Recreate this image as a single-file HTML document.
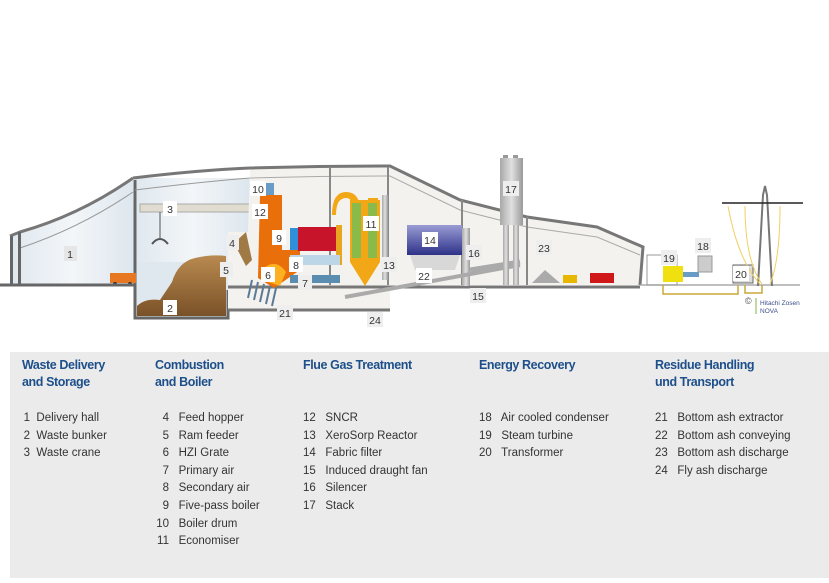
<!DOCTYPE html>
<html><head><meta charset="utf-8"><style>
html,body{margin:0;padding:0;background:#fff;}
body{width:829px;height:583px;position:relative;overflow:hidden;font-family:"Liberation Sans",sans-serif;}
svg{position:absolute;left:0;top:0;}
.leg{position:absolute;left:10px;top:352px;width:819px;height:226px;background:#ebebeb;}
.h{position:absolute;color:#1d4f8a;font-size:12.5px;line-height:17px;font-weight:bold;letter-spacing:-0.4px;}
.it{position:absolute;color:#333;font-size:11.5px;line-height:17.6px;white-space:nowrap;}
.it span{display:inline-block;text-align:right;}
.lb{font-family:"Liberation Sans",sans-serif;font-size:10.5px;fill:#333;text-anchor:middle;}
</style></head><body>
<svg width="829" height="583" viewBox="0 0 829 583">
<defs>
<linearGradient id="hall" x1="0" x2="1"><stop offset="0" stop-color="#dfe8ef"/><stop offset="0.5" stop-color="#f3f6f8"/><stop offset="1" stop-color="#dde6ee"/></linearGradient>
<linearGradient id="brown" x1="0" y1="0" x2="0" y2="1"><stop offset="0" stop-color="#b98a50"/><stop offset="1" stop-color="#7a5228"/></linearGradient>
<linearGradient id="grey" x1="0" x2="1"><stop offset="0" stop-color="#a8a8a8"/><stop offset="0.5" stop-color="#e0e0e0"/><stop offset="1" stop-color="#9a9a9a"/></linearGradient>
<linearGradient id="blue" x1="0" y1="0" x2="0" y2="1"><stop offset="0" stop-color="#9a9cd4"/><stop offset="1" stop-color="#2d3288"/></linearGradient>
</defs>
<path d="M10,236 L20,232 Q80,215 133,178 L135,285 L10,285 Z" fill="url(#hall)"/>
<path d="M10,236 L20,232 Q80,215 133,178" fill="none" stroke="#777" stroke-width="3"/>
<path d="M20,248 Q80,228 133,192" fill="none" stroke="#999" stroke-width="1"/>
<rect x="10" y="236" width="3" height="50" fill="#666"/><rect x="18" y="232" width="3" height="54" fill="#666"/>
<rect x="135" y="178" width="115" height="107" fill="url(#hall)"/>
<path d="M135,285 L135,318 L228,318 L228,262 L135,262Z" fill="#dfe8ef"/>
<path d="M137,316 L137,306 Q145,298 160,300 L172,282 Q178,262 195,258 Q212,254 226,256 L226,316Z" fill="url(#brown)"/>
<path d="M135,180 L135,318 L228,318 L228,290" fill="none" stroke="#666" stroke-width="3"/>
<path d="M133,178 Q200,170 250,168" fill="none" stroke="#777" stroke-width="3"/>
<path d="M135,190 Q200,182 250,178" fill="none" stroke="#999" stroke-width="1"/>
<rect x="140" y="204" width="110" height="8" fill="#e0dccf" stroke="#aaa" stroke-width="1"/>
<line x1="160" y1="212" x2="160" y2="238" stroke="#555"/><path d="M152,244 Q160,234 168,244" fill="none" stroke="#555" stroke-width="2"/>
<path d="M230,244 Q237,236 244,244" fill="none" stroke="#555" stroke-width="2"/>
<rect x="110" y="273" width="26" height="10" fill="#e87722"/><circle cx="115" cy="284" r="2" fill="#333"/><circle cx="130" cy="284" r="2" fill="#333"/>
<path d="M228,285 L228,232 L248,232 L250,168 Q320,166 390,166 L460,200 L527,217 L597,227 L643,247 L640,285Z" fill="#f4f2ee"/>
<path d="M250,168 Q320,166 390,166 L460,200 L527,217 L597,227 L643,247 L640,285" fill="none" stroke="#777" stroke-width="3"/>
<path d="M250,178 Q320,176 390,176 L460,210 L527,227 L597,237 L640,255" fill="none" stroke="#aaa" stroke-width="1"/>
<g stroke="#888" stroke-width="2"><line x1="330" y1="167" x2="330" y2="285"/><line x1="388" y1="167" x2="388" y2="285"/><line x1="462" y1="200" x2="462" y2="285"/><line x1="527" y1="217" x2="527" y2="285"/></g>
<rect x="228" y="285" width="162" height="25" fill="#f4f2ee"/><line x1="228" y1="310" x2="390" y2="310" stroke="#777" stroke-width="3"/>
<line x1="0" y1="285" x2="135" y2="285" stroke="#666" stroke-width="3"/>
<line x1="228" y1="287" x2="640" y2="287" stroke="#777" stroke-width="3"/>
<line x1="640" y1="285" x2="800" y2="285" stroke="#aaa" stroke-width="1.5"/>
<path d="M234,243 L246,232 L252,260 L246,266 Z" fill="#a07a45"/>
<rect x="256" y="183" width="18" height="12" fill="#6a9cc8"/><circle cx="262" cy="190" r="3" fill="#d22"/>
<path d="M260,195 L282,195 L282,250 L300,250 L300,270 L274,288 L258,278Z" fill="#e86f0a"/>
<rect x="290" y="228" width="8" height="22" fill="#2f8fd8"/>
<rect x="298" y="227" width="38" height="24" fill="#c8142a"/>
<rect x="336" y="225" width="6" height="40" fill="#e8a520"/>
<path d="M264,268 Q276,258 286,272 L280,286 L262,280Z" fill="#ffb020"/>
<rect x="290" y="255" width="50" height="10" fill="#bcd6e8"/>
<rect x="290" y="275" width="50" height="8" fill="#5a8db0"/>
<g stroke="#5a7a95" stroke-width="2"><line x1="252" y1="280" x2="248" y2="298"/><line x1="258" y1="282" x2="254" y2="300"/><line x1="264" y1="284" x2="260" y2="302"/><line x1="270" y1="286" x2="266" y2="304"/><line x1="276" y1="288" x2="272" y2="306"/></g>
<path d="M336,215 Q336,198 346,198 Q352,198 352,206 L352,262 L365,280 L378,262 L378,198 L368,198 L368,260 L360,260 L360,206 Q358,192 346,192 Q332,192 332,215Z" fill="#f2a816"/>
<rect x="350" y="200" width="30" height="62" fill="#f2a816"/>
<rect x="352" y="203" width="9" height="55" fill="#8abb4a"/><rect x="368" y="203" width="9" height="55" fill="#8abb4a"/>
<path d="M350,262 L380,262 L365,286Z" fill="#f2a816"/>
<rect x="382" y="195" width="6" height="85" fill="url(#grey)"/>
<rect x="407" y="225" width="55" height="30" fill="url(#blue)"/>
<path d="M410,255 L460,255 L455,270 L415,270Z" fill="#d8d8d8"/>
<rect x="462" y="228" width="8" height="58" fill="url(#grey)"/>
<path d="M345,297 L520,265" stroke="#aaa" stroke-width="4"/>
<path d="M470,270 L520,262" stroke="#aaa" stroke-width="5"/>
<rect x="503" y="155" width="5" height="4" fill="#999"/><rect x="513" y="155" width="5" height="4" fill="#999"/>
<rect x="500" y="158" width="23" height="67" fill="url(#grey)"/>
<rect x="503" y="225" width="6" height="60" fill="url(#grey)"/><rect x="513" y="225" width="6" height="60" fill="url(#grey)"/>
<path d="M532,283 L545,270 L560,283Z" fill="#aaa"/>
<rect x="563" y="275" width="14" height="8" fill="#e8b800"/><rect x="590" y="273" width="24" height="10" fill="#d01818"/>
<rect x="647" y="255" width="30" height="30" fill="none" stroke="#999"/>
<rect x="663" y="266" width="20" height="16" fill="#f0e010"/>
<rect x="683" y="272" width="16" height="5" fill="#6a9cc8"/>
<rect x="698" y="256" width="14" height="16" fill="#ccc" stroke="#999"/>
<rect x="733" y="265" width="20" height="18" fill="#ddd" stroke="#666"/>
<path d="M663,285 L663,294 L738,294 L738,285 M745,285 L745,293 L762,293 L762,285" fill="none" stroke="#c8a83a" stroke-width="1.5"/>
<path d="M758,286 L763,195 L765,186 L767,195 L772,286" fill="none" stroke="#777" stroke-width="2"/>
<line x1="722" y1="203" x2="803" y2="203" stroke="#222" stroke-width="1.5"/>
<g fill="none" stroke="#f0d060" stroke-width="1"><path d="M728,206 Q738,260 760,284"/><path d="M745,206 Q745,260 762,284"/><path d="M780,206 Q780,260 770,284"/></g>
<text x="745" y="304" font-family="Liberation Sans,sans-serif" font-size="9" fill="#555">©</text>
<text x="760" y="305" font-family="Liberation Sans,sans-serif" font-size="6.5" fill="#3a4f8a">Hitachi Zosen</text>
<text x="760" y="313" font-family="Liberation Sans,sans-serif" font-size="6.5" fill="#3a4f8a">NOVA</text>
<line x1="756" y1="298" x2="756" y2="314" stroke="#7ab84a"/>
<g>
<rect x="64" y="246" width="13" height="15" fill="#e6e6e6"/><text class="lb" x="70" y="258">1</text>
<rect x="163" y="300" width="14" height="15" fill="#fff"/><text class="lb" x="170" y="312">2</text>
<rect x="163" y="201" width="14" height="15" fill="#fff"/><text class="lb" x="170" y="213">3</text>
<rect x="226" y="235" width="13" height="15" fill="#eee"/><text class="lb" x="232" y="247">4</text>
<rect x="220" y="262" width="13" height="15" fill="#eee"/><text class="lb" x="226" y="274">5</text>
<rect x="261" y="267" width="14" height="15" fill="#fff"/><text class="lb" x="268" y="279">6</text>
<rect x="298" y="275" width="14" height="15" fill="#eee"/><text class="lb" x="305" y="287">7</text>
<rect x="289" y="257" width="14" height="15" fill="#fff"/><text class="lb" x="296" y="269">8</text>
<rect x="272" y="230" width="14" height="15" fill="#fff"/><text class="lb" x="279" y="242">9</text>
<rect x="250" y="181" width="16" height="15" fill="#fff"/><text class="lb" x="258" y="193">10</text>
<rect x="363" y="216" width="16" height="15" fill="#fff"/><text class="lb" x="371" y="228">11</text>
<rect x="252" y="204" width="16" height="15" fill="#fff"/><text class="lb" x="260" y="216">12</text>
<rect x="381" y="257" width="16" height="15" fill="#eee"/><text class="lb" x="389" y="269">13</text>
<rect x="422" y="232" width="16" height="15" fill="#fff"/><text class="lb" x="430" y="244">14</text>
<rect x="470" y="288" width="16" height="15" fill="#eee"/><text class="lb" x="478" y="300">15</text>
<rect x="466" y="245" width="16" height="15" fill="#eee"/><text class="lb" x="474" y="257">16</text>
<rect x="503" y="181" width="16" height="15" fill="#eee"/><text class="lb" x="511" y="193">17</text>
<rect x="695" y="238" width="16" height="15" fill="#eee"/><text class="lb" x="703" y="250">18</text>
<rect x="661" y="250" width="16" height="15" fill="#eee"/><text class="lb" x="669" y="262">19</text>
<rect x="733" y="266" width="16" height="15" fill="#fff"/><text class="lb" x="741" y="278">20</text>
<rect x="277" y="305" width="16" height="15" fill="#eee"/><text class="lb" x="285" y="317">21</text>
<rect x="416" y="268" width="16" height="15" fill="#fff"/><text class="lb" x="424" y="280">22</text>
<rect x="536" y="240" width="16" height="15" fill="#eee"/><text class="lb" x="544" y="252">23</text>
<rect x="367" y="312" width="16" height="15" fill="#eee"/><text class="lb" x="375" y="324">24</text>
</g>
</svg>
<div class="leg"></div>
<div class="h" style="left:22px;top:357px">Waste Delivery<br>and Storage</div>
<div class="h" style="left:155px;top:357px">Combustion<br>and Boiler</div>
<div class="h" style="left:303px;top:357px">Flue Gas Treatment</div>
<div class="h" style="left:479px;top:357px">Energy Recovery</div>
<div class="h" style="left:655px;top:357px">Residue Handling<br>und Transport</div>
<div class="it" style="left:22px;top:410px"><span style="width:8px">1</span>&nbsp; Delivery hall<br><span style="width:8px">2</span>&nbsp; Waste bunker<br><span style="width:8px">3</span>&nbsp; Waste crane</div>
<div class="it" style="left:155px;top:410px"><span style="width:14px">4</span>&nbsp;&nbsp; Feed hopper<br><span style="width:14px">5</span>&nbsp;&nbsp; Ram feeder<br><span style="width:14px">6</span>&nbsp;&nbsp; HZI Grate<br><span style="width:14px">7</span>&nbsp;&nbsp; Primary air<br><span style="width:14px">8</span>&nbsp;&nbsp; Secondary air<br><span style="width:14px">9</span>&nbsp;&nbsp; Five-pass boiler<br><span style="width:14px">10</span>&nbsp;&nbsp; Boiler drum<br><span style="width:14px">11</span>&nbsp;&nbsp; Economiser</div>
<div class="it" style="left:303px;top:410px">12&nbsp;&nbsp; SNCR<br>13&nbsp;&nbsp; XeroSorp Reactor<br>14&nbsp;&nbsp; Fabric filter<br>15&nbsp;&nbsp; Induced draught fan<br>16&nbsp;&nbsp; Silencer<br>17&nbsp;&nbsp; Stack</div>
<div class="it" style="left:479px;top:410px">18&nbsp;&nbsp; Air cooled condenser<br>19&nbsp;&nbsp; Steam turbine<br>20&nbsp;&nbsp; Transformer</div>
<div class="it" style="left:655px;top:410px">21&nbsp;&nbsp; Bottom ash extractor<br>22&nbsp;&nbsp; Bottom ash conveying<br>23&nbsp;&nbsp; Bottom ash discharge<br>24&nbsp;&nbsp; Fly ash discharge</div>
</body></html>
